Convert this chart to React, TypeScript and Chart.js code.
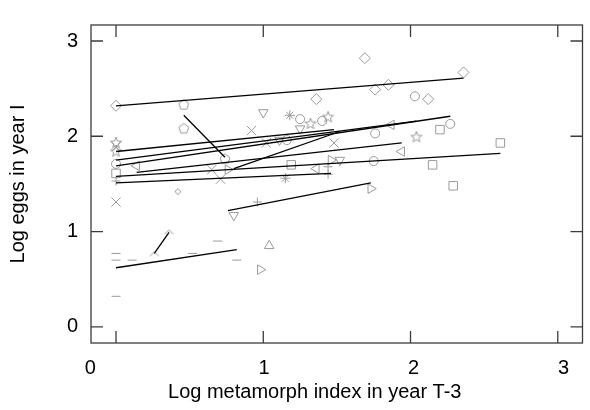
import React, { useEffect, useRef } from "react";
import { Chart, registerables } from "chart.js";
Chart.register(...registerables);

// ---------- axis data ----------
const xTickValues = [0, 1, 2, 3];
const yTickValues = [0, 1, 2, 3];
const xTickLabels = ["0", "1", "2", "3"];
const yTickLabels = ["0", "1", "2", "3"];
const xTitle = "Log metamorph index in year T-3";
const yTitle = "Log eggs in year I";

// ---------- series (x = log metamorph index, y = log eggs) ----------
const diamondX = [0, 1.36, 1.69, 1.76, 1.85, 2.12, 2.36];
const diamondY = [2.32, 2.39, 2.82, 2.49, 2.54, 2.39, 2.67];
const diamondFit = [0, 2.32, 2.36, 2.61];

const pentagonX = [0.46, 0.46, 0.74];
const pentagonY = [2.33, 2.08, 1.76];
const pentagonFit = [0.46, 2.22, 0.74, 1.78];

const starX = [0, 0, 1.32, 1.44, 2.04];
const starY = [1.93, 1.84, 2.13, 2.2, 1.99];
const starFit = [0, 1.75, 2.04, 2.16];

const circleX = [0, 1.16, 1.25, 1.4, 1.76, 1.75, 2.03, 2.27];
const circleY = [1.71, 1.96, 2.18, 2.16, 2.03, 1.74, 2.42, 2.13];
const circleFit = [0, 1.69, 2.27, 2.21];

const squareX = [0, 1.19, 2.2, 2.15, 2.29, 2.61];
const squareY = [1.61, 1.7, 2.07, 1.7, 1.48, 1.93];
const squareFit = [0, 1.58, 2.61, 1.82];

const crossX = [0, 0, 0.65, 0.71, 0.92, 1.02, 1.48];
const crossY = [1.31, 1.89, 1.65, 1.55, 2.06, 1.93, 1.93];
const crossFit = [0, 1.84, 1.48, 2.07];

const downTriX = [1.0, 1.25, 1.11, 0.8, 1.52];
const downTriY = [2.25, 2.08, 1.96, 1.17, 1.75];
const downTriFit = [0.8, 1.66, 1.52, 2.05];

const upTriX = [1.04];
const upTriY = [0.85];

const leftTriX = [0.14, 1.36, 1.87, 1.94];
const leftTriY = [1.69, 1.66, 2.12, 1.84];
const leftTriFit = [0.14, 1.62, 1.94, 1.93];

const rightTriX = [0.76, 0.98, 1.46, 1.73];
const rightTriY = [1.65, 0.6, 1.75, 1.45];
const rightTriFit = [0.76, 1.22, 1.73, 1.51];

const plusX = [0, 0.96, 1.44, 1.44];
const plusY = [1.53, 1.31, 1.68, 1.6];
const plusFit = [0, 1.51, 1.46, 1.61];

const asteriskX = [1.18, 1.15];
const asteriskY = [2.22, 1.56];

const smallDiamondX = [0.42];
const smallDiamondY = [1.42];

const chevronX = [0.26, 0.36];
const chevronY = [0.77, 1.0];
const chevronFit = [0.26, 0.77, 0.36, 0.99];

const dashX = [0, 0, 0.11, 0.52, 0.69, 0.82, 0];
const dashY = [0.77, 0.7, 0.7, 0.77, 0.9, 0.7, 0.32];
const dashFit = [0, 0.62, 0.82, 0.81];

const GRAY = "#9a9a9a";
const FONT = '"Liberation Sans", Arial, Helvetica, sans-serif';

function makeStyle(draw: (c: CanvasRenderingContext2D) => void, close = true) {
  const size = 16;
  const cv = document.createElement("canvas");
  cv.width = size;
  cv.height = size;
  const c = cv.getContext("2d")!;
  c.translate(size / 2, size / 2);
  c.strokeStyle = GRAY;
  c.lineWidth = 1;
  c.beginPath();
  draw(c);
  if (close) c.closePath();
  c.stroke();
  return cv;
}

const pts = (xs: number[], ys: number[]) => xs.map((x, i) => ({ x, y: ys[i] }));
const fitPts = (f: number[]) => [
  { x: f[0], y: f[1] },
  { x: f[2], y: f[3] },
];

export default function App() {
  const ref = useRef<HTMLCanvasElement | null>(null);

  useEffect(() => {
    if (!ref.current) return;

    const pentagon = makeStyle((c) => {
      for (let i = 0; i < 5; i++) {
        const a = (-90 + 72 * i) * (Math.PI / 180);
        const px = Math.cos(a) * 5.2;
        const py = Math.sin(a) * 5.2;
        if (i === 0) c.moveTo(px, py);
        else c.lineTo(px, py);
      }
    });
    const star5 = makeStyle((c) => {
      for (let i = 0; i < 10; i++) {
        const a = (-90 + 36 * i) * (Math.PI / 180);
        const r = i % 2 === 0 ? 5.8 : 2.4;
        const px = Math.cos(a) * r;
        const py = Math.sin(a) * r;
        if (i === 0) c.moveTo(px, py);
        else c.lineTo(px, py);
      }
    });
    const chevron = makeStyle((c) => {
      c.moveTo(-4.5, 2.5);
      c.lineTo(0, -1.5);
      c.lineTo(4.5, 2.5);
    }, false);
    const smallDiamond = makeStyle((c) => {
      c.moveTo(0, -3);
      c.lineTo(3, 0);
      c.lineTo(0, 3);
      c.lineTo(-3, 0);
    });

    const groups: any[] = [
      { d: pts(diamondX, diamondY), style: "rectRot", r: 5.5, fit: diamondFit },
      { d: pts(pentagonX, pentagonY), style: pentagon, r: 5, fit: pentagonFit },
      { d: pts(starX, starY), style: star5, r: 5, fit: starFit },
      { d: pts(circleX, circleY), style: "circle", r: 4.5, fit: circleFit },
      { d: pts(squareX, squareY), style: "rect", r: 6, fit: squareFit },
      { d: pts(crossX, crossY), style: "crossRot", r: 6.5, fit: crossFit },
      { d: pts(downTriX, downTriY), style: "triangle", rot: 180, r: 5.5, fit: downTriFit },
      { d: pts(upTriX, upTriY), style: "triangle", r: 5.5 },
      { d: pts(leftTriX, leftTriY), style: "triangle", rot: 270, r: 5.5, fit: leftTriFit },
      { d: pts(rightTriX, rightTriY), style: "triangle", rot: 90, r: 5.5, fit: rightTriFit },
      { d: pts(plusX, plusY), style: "cross", r: 4.5, fit: plusFit },
      { d: pts(asteriskX, asteriskY), style: "star", r: 5 },
      { d: pts(smallDiamondX, smallDiamondY), style: smallDiamond, r: 3 },
      { d: pts(chevronX, chevronY), style: chevron, r: 4, fit: chevronFit },
      { d: pts(dashX, dashY), style: "line", r: 4.5, fit: dashFit },
    ];

    const datasets: any[] = [];
    groups.forEach((g) => {
      datasets.push({
        data: g.d,
        pointStyle: g.style,
        pointRotation: g.rot || 0,
        pointRadius: g.r,
        pointBorderColor: GRAY,
        pointBackgroundColor: "rgba(0,0,0,0)",
        pointBorderWidth: 1,
        showLine: false,
        order: 2,
      });
      if (g.fit) {
        datasets.push({
          data: fitPts(g.fit),
          showLine: true,
          borderColor: "#000",
          borderWidth: 1.3,
          pointRadius: 0,
          order: 1,
        });
      }
    });

    const framePlugin = {
      id: "frame",
      beforeDatasetsDraw(chart: any) {
        const { ctx, chartArea, scales } = chart;
        const { left, right, top, bottom } = chartArea;
        ctx.save();
        ctx.strokeStyle = "#3c3c3c";
        ctx.lineWidth = 1.3;
        ctx.strokeRect(left, top, right - left, bottom - top);
        const tl = 12;
        ctx.beginPath();
        xTickValues.forEach((v) => {
          const px = scales.x.getPixelForValue(v);
          ctx.moveTo(px, bottom);
          ctx.lineTo(px, bottom - tl);
          ctx.moveTo(px, top);
          ctx.lineTo(px, top + tl);
        });
        yTickValues.forEach((v) => {
          const py = scales.y.getPixelForValue(v);
          ctx.moveTo(left, py);
          ctx.lineTo(left + tl, py);
          ctx.moveTo(right, py);
          ctx.lineTo(right - tl, py);
        });
        ctx.stroke();
        ctx.restore();
      },
      afterDraw(chart: any) {
        const { ctx, chartArea } = chart;
        ctx.save();
        ctx.fillStyle = "#000";
        ctx.font = `20px ${FONT}`;
        ctx.textAlign = "center";
        ctx.textBaseline = "middle";
        ctx.fillText(xTitle, (chartArea.left + chartArea.right) / 2 - 22, chart.height - 18);
        ctx.restore();
      },
    };

    // label anchors of the x axis (the reference prints its tick labels slightly off the tick marks)
    const xLabelAnchors = [-0.175, 1.005, 2.02, 3.04];

    const chart = new Chart(ref.current, {
      type: "scatter",
      data: { datasets },
      plugins: [framePlugin],
      options: {
        animation: false,
        responsive: false,
        events: [],
        layout: { padding: { top: 13.5, right: 5, left: 0, bottom: 0 } },
        plugins: { legend: { display: false }, tooltip: { enabled: false } },
        scales: {
          x: {
            type: "linear",
            min: -0.17,
            max: 3.168,
            grid: { display: false, drawTicks: false },
            border: { display: false },
            afterBuildTicks: (s: any) => {
              s.ticks = xLabelAnchors.map((v) => ({ value: v }));
            },
            afterFit: (s: any) => {
              s.height = 67;
            },
            ticks: {
              autoSkip: false,
              maxRotation: 0,
              padding: 13,
              color: "#000",
              font: { family: FONT, size: 20 },
              callback: (_v: any, i: number) => xTickLabels[i],
            },
          },
          y: {
            type: "linear",
            min: -0.17,
            max: 3.168,
            grid: { display: false, drawTicks: false },
            border: { display: false },
            afterBuildTicks: (s: any) => {
              s.ticks = yTickValues.map((v) => ({ value: v }));
            },
            afterFit: (s: any) => {
              s.width = 91;
            },
            ticks: {
              autoSkip: false,
              padding: 13,
              color: "#000",
              font: { family: FONT, size: 20 },
              callback: (_v: any, i: number) => yTickLabels[i],
            },
            title: {
              display: true,
              text: yTitle,
              color: "#000",
              font: { family: FONT, size: 20 },
              padding: { top: 6, bottom: 0 },
            },
          },
        },
      },
    });
    return () => chart.destroy();
  }, []);

  return (
    <div style={{ position: "absolute", left: 0, top: 0, width: 590, height: 410, background: "#fff" }}>
      <canvas ref={ref} width={590} height={410} style={{ display: "block" }} />
    </div>
  );
}
